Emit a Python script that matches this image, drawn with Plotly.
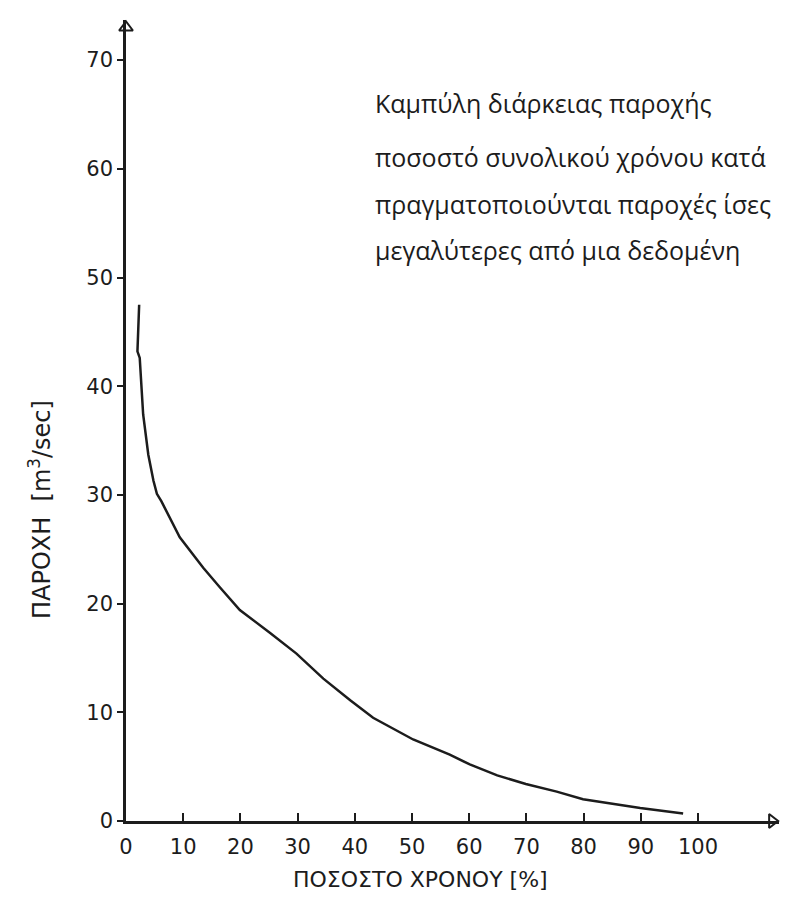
import plotly.graph_objects as go

# Data
pct_time = [2.3, 2.0, 2.4, 3.0, 3.9, 4.8, 5.4, 6.2, 9.4, 13.5, 16.4, 19.9, 25.2,
            29.8, 34.5, 39.2, 43.2, 50.2, 56.6, 60.1, 64.9, 69.9, 75.3, 79.9, 89.9, 97.4]
flow = [47.5, 43.2, 42.6, 37.4, 33.7, 31.3, 30.1, 29.4, 26.1, 23.3, 21.5, 19.4, 17.3,
        15.4, 13.1, 11.1, 9.5, 7.5, 6.1, 5.2, 4.2, 3.4, 2.7, 2.0, 1.2, 0.7]

x_ticks = [0, 10, 20, 30, 40, 50, 60, 70, 80, 90, 100]
y_ticks = [0, 10, 20, 30, 40, 50, 60, 70]

note_lines = [
    "Καμπύλη διάρκειας παροχής",
    "ποσοστό συνολικού χρόνου κατά",
    "πραγματοποιούνται παροχές ίσες",
    "μεγαλύτερες από μια δεδομένη",
]
x_title = "ΠΟΣΟΣΤΟ ΧΡΟΝΟΥ [%]"
y_title = "ΠΑΡΟΧΗ  [m<sup>3</sup>/sec]"

ink = "#1c1c1c"

# figure is placed 8 px from the page's top-left corner
W, H = 772, 885
ML, MR, MT, MB = 118, 1, 12, 72
PW = W - ML - MR
PH = H - MT - MB
x_max = PW / 5.72
y_max = PH / 10.87


def px(page_x):
    return (page_x - 8 - ML) / PW


def py(page_y):
    return (H - MB - (page_y - 8)) / PH


fig = go.Figure()
fig.add_trace(go.Scatter(
    x=pct_time, y=flow, mode="lines",
    line=dict(color=ink, width=2.5),
    showlegend=False, hoverinfo="skip",
))
# arrow heads at the ends of the axes
fig.add_trace(go.Scatter(
    x=[0, x_max - 1.2], y=[73.0, 0],
    mode="markers",
    marker=dict(symbol=["triangle-up-open", "triangle-right-open"], size=12,
                color=ink, line=dict(width=2, color=ink)),
    cliponaxis=False, showlegend=False, hoverinfo="skip",
))

tick_font = dict(family="DejaVu Sans", size=21, color=ink)

fig.update_xaxes(
    range=[0, x_max], tickvals=x_ticks, ticktext=[str(v) for v in x_ticks],
    ticks="inside", ticklen=8, tickwidth=2, tickcolor=ink,
    showline=True, linecolor=ink, linewidth=2.5,
    showgrid=False, zeroline=False, tickfont=tick_font,
    ticklabelstandoff=5,
)
fig.update_yaxes(
    range=[0, y_max], tickvals=y_ticks, ticktext=[str(v) for v in y_ticks],
    ticks="outside", ticklen=6, tickwidth=2, tickcolor=ink,
    showline=True, linecolor=ink, linewidth=2.5,
    showgrid=False, zeroline=False, tickfont=tick_font,
)

annotations = []
line_y = [103, 157, 204, 250]
for txt, ly in zip(note_lines, line_y):
    annotations.append(dict(
        text=txt, xref="paper", yref="paper",
        x=px(373), y=py(ly),
        xanchor="left", yanchor="middle", showarrow=False,
        font=dict(family="Open Sans", size=25, color=ink),
    ))
annotations.append(dict(
    text=x_title, xref="paper", yref="paper",
    x=px(420), y=py(879),
    xanchor="center", yanchor="middle", showarrow=False,
    font=dict(family="DejaVu Sans", size=22, color=ink),
))
annotations.append(dict(
    text=y_title, xref="paper", yref="paper",
    x=px(40), y=py(510),
    xanchor="center", yanchor="middle", showarrow=False, textangle=-90,
    font=dict(family="DejaVu Sans", size=24, color=ink),
))

fig.update_layout(
    width=W, height=H, autosize=False,
    margin=dict(l=ML, r=MR, t=MT, b=MB),
    paper_bgcolor="white", plot_bgcolor="white",
    annotations=annotations,
)

fig.write_html("out.html")
